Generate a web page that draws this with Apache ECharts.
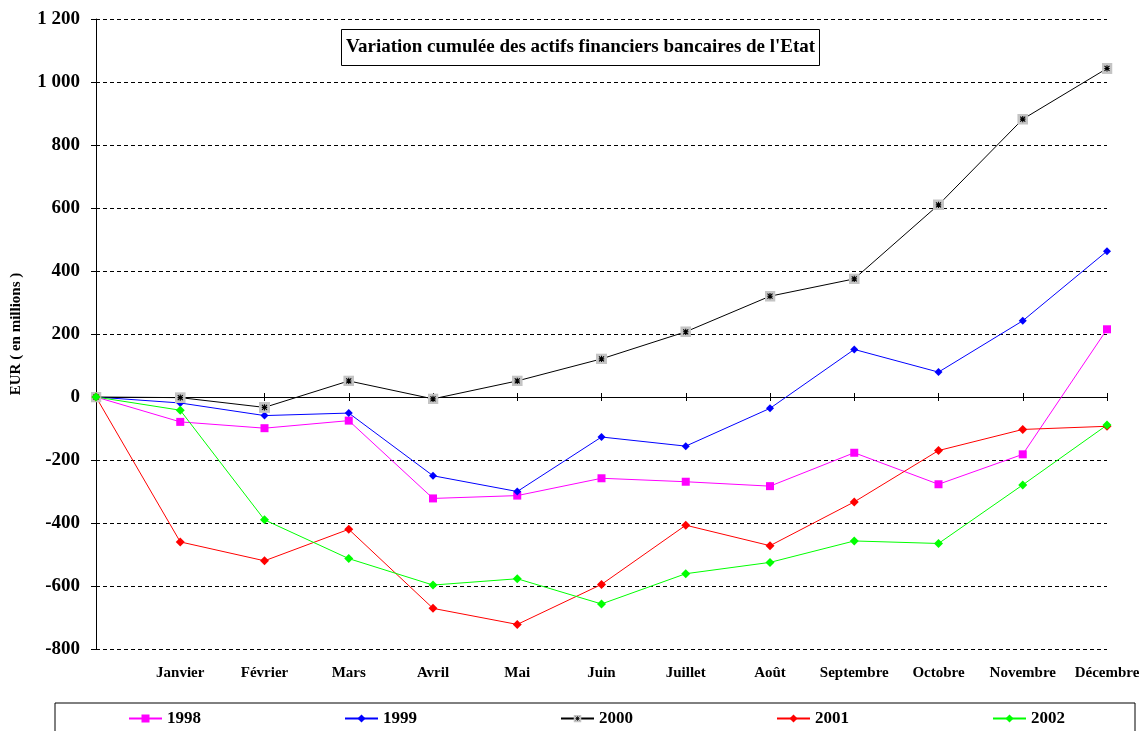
<!DOCTYPE html>
<html>
<head>
<meta charset="utf-8">
<script src="https://cdn.jsdelivr.net/npm/echarts@6/dist/echarts.min.js"></script>
<style>
  html, body { margin: 0; padding: 0; background: #fff; }
  #chart { width: 1143px; height: 731px; }
</style>
</head>
<body>
<div id="chart"></div>
<script>
const months = ['', 'Janvier', 'Février', 'Mars', 'Avril', 'Mai', 'Juin', 'Juillet', 'Août', 'Septembre', 'Octobre', 'Novembre', 'Décembre'];
const years = ['1998', '1999', '2000', '2001', '2002'];
const v1998 = [0, -79, -99, -75, -322, -313, -258, -269, -283, -177, -277, -182, 215];
const v1999 = [0, -19, -59, -51, -250, -300, -127, -156, -36, 151, 79, 242, 463];
const v2000 = [0, -2, -33, 51, -6, 51, 121, 207, 320, 375, 610, 882, 1043];
const v2001 = [0, -460, -520, -420, -671, -722, -595, -407, -472, -333, -170, -103, -93];
const v2002 = [0, -42, -390, -513, -597, -577, -657, -561, -525, -457, -465, -279, -89];
const yMin = -800;
const yMax = 1200;
const yStep = 200;

const font = "'Liberation Serif', 'Times New Roman', serif";

// grey square with a black asterisk, like the 2000 marker
const starSymbol = 'image://data:image/svg+xml;utf8,' + encodeURIComponent(
  '<svg xmlns="http://www.w3.org/2000/svg" width="11" height="11">' +
  '<rect width="11" height="11" fill="#c4c4c4"/>' +
  '<path d="M3 3L8 8M8 3L3 8M5.5 2.4V8.6M2.8 5.5H8.2" stroke="#000" stroke-width="1.1"/>' +
  '</svg>');

function lineSeries(name, data, color, symbol, size) {
  return {
    name: name,
    type: 'line',
    xAxisIndex: 2,
    data: data,
    symbol: symbol,
    symbolSize: size,
    showAllSymbol: true,
    lineStyle: { color: color, width: 1 },
    itemStyle: { color: color },
    emphasis: { disabled: true }
  };
}

const chart = echarts.init(document.getElementById('chart'));
chart.setOption({
  animation: false,
  textStyle: { fontFamily: font },
  title: {
    text: "Variation cumulée des actifs financiers bancaires de l'Etat",
    left: 341,
    top: 29,
    padding: [9, 5, 9, 5],
    borderColor: '#000',
    borderWidth: 1,
    textStyle: { fontFamily: font, fontWeight: 'bold', fontSize: 19, color: '#000' }
  },
  legend: {
    data: years,
    left: 55,
    top: 703,
    width: 1000,
    padding: [7, 70, 20, 73],
    itemGap: 143,
    itemWidth: 33,
    itemHeight: 10,
    borderColor: '#000',
    borderWidth: 1,
    textStyle: { fontFamily: font, fontWeight: 'bold', fontSize: 17, color: '#000' }
  },
  grid: { left: 96, right: 36, top: 19, bottom: 82, containLabel: false },
  xAxis: [
    {
      // zero line, ticks going down
      type: 'category',
      position: 'bottom',
      data: months,
      boundaryGap: false,
      axisLine: { onZero: true, onZeroAxisIndex: 0, lineStyle: { color: '#000', width: 1 } },
      axisTick: { show: true, length: 4, interval: 0, lineStyle: { color: '#000' } },
      axisLabel: { show: false },
      splitLine: { show: false }
    },
    {
      // zero line, ticks going up
      type: 'category',
      position: 'top',
      data: months,
      boundaryGap: false,
      axisLine: { onZero: true, onZeroAxisIndex: 0, lineStyle: { color: '#000', width: 1 } },
      axisTick: { show: true, length: 4, interval: 0, lineStyle: { color: '#000' } },
      axisLabel: { show: false },
      splitLine: { show: false }
    },
    {
      // month names under the plot
      type: 'category',
      position: 'bottom',
      data: months,
      boundaryGap: false,
      axisLine: { show: false, onZero: false },
      axisTick: { show: false },
      axisLabel: {
        interval: 0,
        margin: 17,
        fontFamily: font,
        fontWeight: 'bold',
        fontSize: 15,
        color: '#000'
      },
      splitLine: { show: false }
    }
  ],
  yAxis: {
    type: 'value',
    min: yMin,
    max: yMax,
    interval: yStep,
    name: 'EUR ( en millions )',
    nameLocation: 'middle',
    nameRotate: 90,
    nameGap: 72,
    nameTextStyle: { fontFamily: font, fontWeight: 'bold', fontSize: 15, color: '#000' },
    axisLine: { show: true, onZero: false, lineStyle: { color: '#000', width: 1 } },
    axisTick: { show: true, length: 5, lineStyle: { color: '#000' } },
    axisLabel: {
      margin: 16,
      fontFamily: font,
      fontWeight: 'bold',
      fontSize: 19,
      color: '#000',
      formatter: function(value) {
        return String(value).replace(/\B(?=(\d{3})+(?!\d))/g, ' ');
      }
    },
    splitLine: { show: true, lineStyle: { color: '#000', type: [4, 3], width: 1 } }
  },
  series: [
    lineSeries('1998', v1998, '#ff00ff', 'rect', 8),
    lineSeries('1999', v1999, '#0000ff', 'diamond', 8),
    lineSeries('2000', v2000, '#000000', starSymbol, 11),
    lineSeries('2001', v2001, '#ff0000', 'diamond', 9),
    lineSeries('2002', v2002, '#00ff00', 'diamond', 9)
  ]
});
</script>
</body>
</html>
